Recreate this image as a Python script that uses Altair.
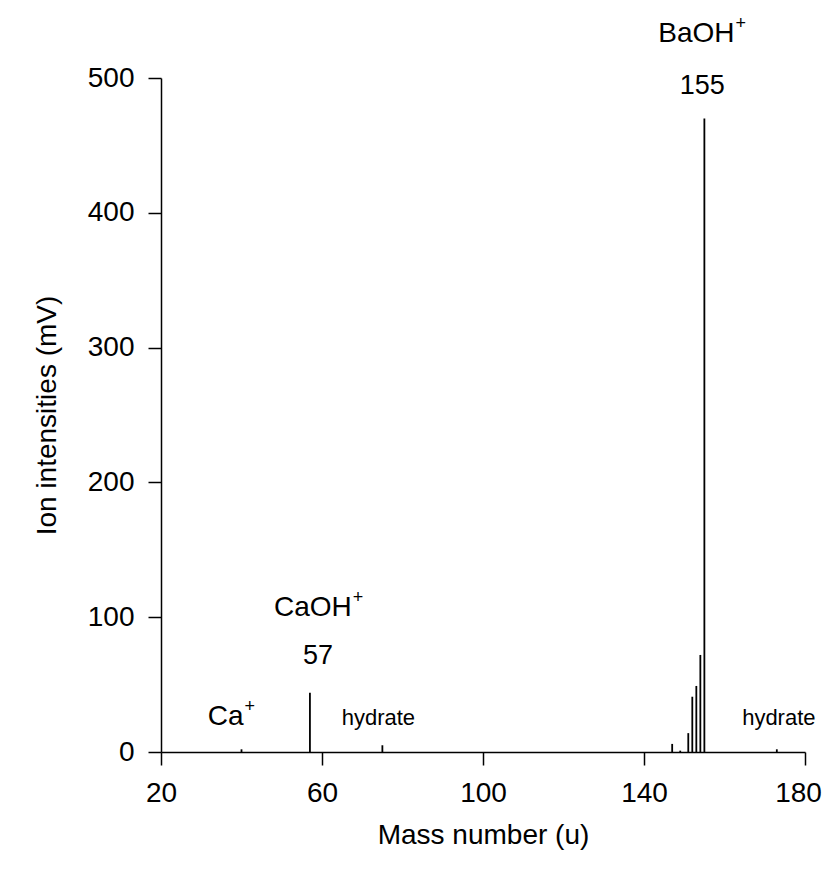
import altair as alt
import pandas as pd

# peak data (mass number u, ion intensity mV)
mass = [40, 57, 75, 147, 149, 151, 152, 153, 154, 155, 173]
intensity = [2, 44, 5, 6, 1, 14, 41, 49, 72, 470, 2]

# annotation texts (anchored in data units)
main_labels = ["BaOH", "CaOH", "Ca"]
main_x = [162.5, 67.4, 40.5]
main_y = [527, 101, 20]

num_labels = ["155", "57"]
num_x = [154.5, 59]
num_y = [488, 65]

hyd_labels = ["hydrate", "hydrate"]
hyd_x = [74, 173.5]
hyd_y = [20, 20]

x_ticks = [20, 60, 100, 140, 180]
y_ticks = [0, 100, 200, 300, 400, 500]

FONT = "Liberation Sans"

peaks = pd.DataFrame({"mass": mass, "intensity": intensity})
mains = pd.DataFrame({"label": main_labels, "x": main_x, "y": main_y})
nums = pd.DataFrame({"label": num_labels, "x": num_x, "y": num_y})
hyds = pd.DataFrame({"label": hyd_labels, "x": hyd_x, "y": hyd_y})

xscale = alt.Scale(domain=[20, 180], nice=False, zero=False)
yscale = alt.Scale(domain=[0, 500], nice=False)

xaxis = alt.Axis(values=x_ticks, title="Mass number (u)", grid=False, labelFlush=False,
                 labelOverlap=False, tickSize=13, labelPadding=14, titlePadding=14,
                 labelOffset={"expr": "datum.value == 180 ? -7 : 0"})
yaxis = alt.Axis(values=y_ticks, title="Ion intensities (mV)", grid=False, labelFlush=False,
                 labelOverlap=False, tickSize=13, labelPadding=14, titlePadding=26)

bars = alt.Chart(peaks).mark_rule(color="black", strokeWidth=1.8).encode(
    x=alt.X("mass:Q", scale=xscale, axis=xaxis),
    y=alt.Y("intensity:Q", scale=yscale, axis=yaxis),
    y2=alt.datum(0),
)

main_text = alt.Chart(mains).mark_text(
    align="right", baseline="alphabetic", fontSize=28, font=FONT, color="black", clip=False
).encode(x=alt.X("x:Q", scale=xscale), y=alt.Y("y:Q", scale=yscale), text="label:N")

plus_text = alt.Chart(mains).mark_text(
    align="left", baseline="alphabetic", fontSize=18, font=FONT, color="black", dx=1, dy=-13, clip=False
).encode(x=alt.X("x:Q", scale=xscale), y=alt.Y("y:Q", scale=yscale), text=alt.value("+"))

num_text = alt.Chart(nums).mark_text(
    align="center", baseline="alphabetic", fontSize=27, font=FONT, color="black", clip=False
).encode(x=alt.X("x:Q", scale=xscale), y=alt.Y("y:Q", scale=yscale), text="label:N")

hyd_text = alt.Chart(hyds).mark_text(
    align="center", baseline="alphabetic", fontSize=22, font=FONT, color="black", clip=False
).encode(x=alt.X("x:Q", scale=xscale), y=alt.Y("y:Q", scale=yscale), text="label:N")

chart = alt.layer(bars, main_text, plus_text, num_text, hyd_text).properties(
    width=644, height=674,
    background="white",
    autosize=alt.AutoSizeParams(type="none"),
    padding={"left": 153, "top": 70, "right": 17, "bottom": 100},
).configure_view(stroke=None).configure_axis(
    domainColor="black", domainWidth=1.5, tickColor="black", tickWidth=1.5,
    labelFont=FONT, labelFontSize=28, labelColor="black",
    titleFont=FONT, titleFontSize=28, titleFontWeight="normal", titleColor="black",
)

chart.save("out.html", embed_options={"renderer": "svg", "actions": False})
